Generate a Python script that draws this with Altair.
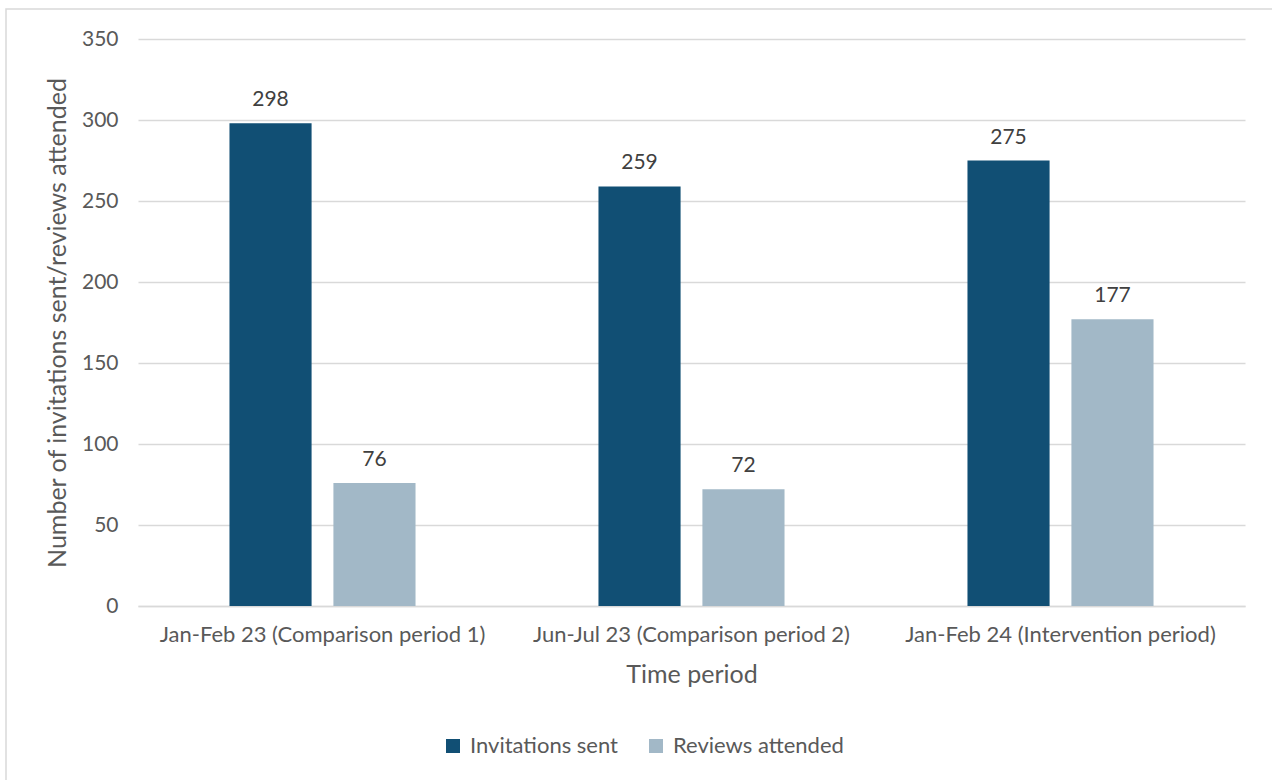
import altair as alt
import pandas as pd

# Review invitations and attendance per period
periods = [
    "Jan-Feb 23 (Comparison period 1)",
    "Jun-Jul 23 (Comparison period 2)",
    "Jan-Feb 24 (Intervention period)",
]
series = ["Invitations sent", "Reviews attended"]
invitations_sent = [298, 259, 275]
reviews_attended = [76, 72, 177]
colors = ["#114F74", "#A2B8C7"]

rows = []
for p, inv, rev in zip(periods, invitations_sent, reviews_attended):
    rows.append({"period": p, "series": series[0], "value": inv})
    rows.append({"period": p, "series": series[1], "value": rev})
df = pd.DataFrame(rows)

FONT = "Lato"
TXT = "#595959"
W, H = 1107, 567

x_enc = alt.X(
    "period:N",
    sort=periods,
    scale=alt.Scale(paddingInner=0, paddingOuter=0),
    axis=alt.Axis(
        title="Time period",
        labelAngle=0,
        labelFontSize=22,
        labelColor=TXT,
        labelFont=FONT,
        labelPadding=18,
        labelLimit=0,
        ticks=False,
        domain=True,
        domainColor="#D9D9D9",
        domainWidth=1.5,
        titleFontSize=25,
        titleFontWeight="normal",
        titleColor=TXT,
        titleFont=FONT,
        titlePadding=17,
    ),
)
xoff = alt.XOffset(
    "series:N",
    sort=series,
    scale=alt.Scale(paddingInner=0.21, paddingOuter=0.88),
)
y_enc = alt.Y(
    "value:Q",
    scale=alt.Scale(domain=[0, 350], nice=False),
    axis=alt.Axis(
        title="Number of invitations sent/reviews attended",
        values=[0, 50, 100, 150, 200, 250, 300, 350],
        labelFontSize=21,
        labelColor=TXT,
        labelFont=FONT,
        labelPadding=20,
        ticks=False,
        domain=False,
        grid=True,
        gridColor="#D9D9D9",
        gridWidth=1.5,
        titleFontSize=25,
        titleFontWeight="normal",
        titleColor=TXT,
        titleFont=FONT,
        titlePadding=11,
    ),
)
color_enc = alt.Color(
    "series:N",
    sort=series,
    scale=alt.Scale(domain=series, range=colors),
    legend=alt.Legend(
        title=None,
        orient="none",
        legendX=304,
        legendY=696,
        direction="horizontal",
        symbolType="square",
        symbolSize=196,
        symbolStrokeWidth=0,
        labelFontSize=22,
        labelColor=TXT,
        labelFont=FONT,
        labelLimit=0,
        columnPadding=27,
        labelOffset=6,
    ),
)

bars = alt.Chart(df).mark_bar().encode(
    x=x_enc, xOffset=xoff, y=y_enc, color=color_enc
)

labels = alt.Chart(df).mark_text(
    baseline="bottom", dy=-13, fontSize=21, color="#404040", font=FONT
).encode(
    x=alt.X("period:N", sort=periods),
    xOffset=alt.XOffset("series:N", sort=series),
    y="value:Q",
    text="value:Q",
)

# Light frame around the whole figure
frame = alt.Chart(pd.DataFrame({"k": [0]})).mark_rect(
    fill=None, stroke="#D9D9D9", strokeWidth=1.5
).encode(
    x=alt.value(-132),
    x2=alt.value(1160),
    y=alt.value(-30),
    y2=alt.value(760),
)

chart = (
    alt.layer(frame, bars, labels)
    .properties(
        width=W,
        height=H,
        autosize=alt.AutoSizeParams(type="none"),
        padding={"left": 138, "top": 39, "right": 27, "bottom": 174},
        background="white",
    )
    .configure_view(stroke=None)
)

chart.save("out.html", embed_options={"renderer": "svg", "actions": False})
